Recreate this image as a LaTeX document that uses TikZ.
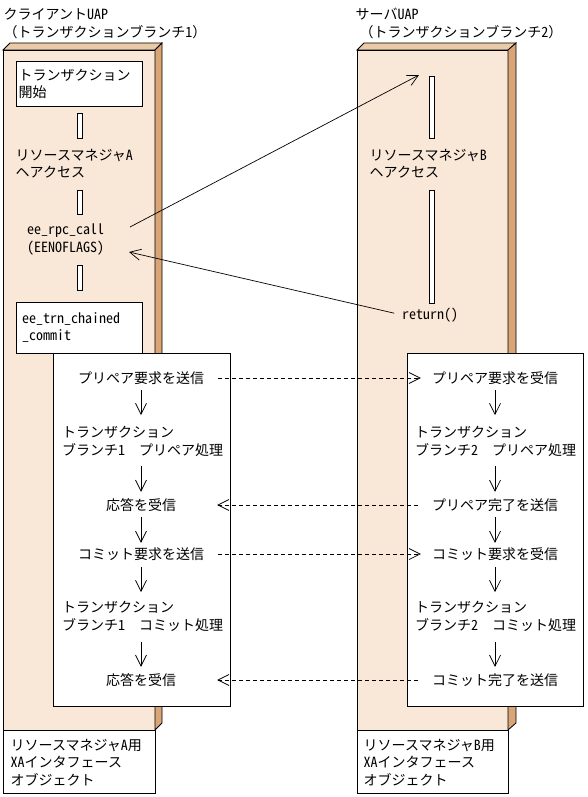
\documentclass[tikz,border=0pt]{standalone}
\usepackage{fontspec}
\setmainfont{Noto Sans CJK JP}
\newfontfamily\hwf{Noto Sans CJK JP}[RawFeature=+hwid]
\newcommand\hw[1]{{\hwf #1}}
\usetikzlibrary{arrows.meta}
\definecolor{panelfront}{RGB}{249,231,215}
\definecolor{paneltop}{RGB}{235,203,167}
\definecolor{panelside}{RGB}{217,164,118}
\newcommand\mystrut{\rule[-1.7pt]{0pt}{14pt}}
\begin{document}
\begin{tikzpicture}[x=1pt,y=-1pt,
  every node/.style={inner sep=0pt, font=\fontsize{14}{17.5}\selectfont},
  txt/.style={anchor=west, align=left},
  ctr/.style={anchor=center},
  frame/.style={draw=black, line width=0.8pt},
  bar/.style={draw=black, fill=white, line width=0.8pt},
  arr/.style={line width=0.7pt, -{Straight Barb[length=11pt,width=11pt]}},
  darr/.style={arr, dash pattern=on 4pt off 3pt},
]
\useasboundingbox (0,0) rectangle (587,797);

% ---- left panel ----
\filldraw[fill=panelfront, frame] (3,50) rectangle (155,730);
\filldraw[fill=paneltop, frame] (3,50) -- (10,43) -- (162,43) -- (155,50) -- cycle;
\filldraw[fill=panelside, frame] (155,50) -- (162,43) -- (162,723) -- (155,730) -- cycle;
% ---- right panel ----
\filldraw[fill=panelfront, frame] (357,50) rectangle (508,730);
\filldraw[fill=paneltop, frame] (357,50) -- (364,43) -- (516,43) -- (508,50) -- cycle;
\filldraw[fill=panelside, frame] (508,50) -- (516,43) -- (516,723) -- (508,730) -- cycle;

% inner boxes left
\filldraw[fill=white, frame] (16,61) rectangle (142,106);
\filldraw[fill=white, frame] (16,302) rectangle (142,353);
% bars
\draw[bar] (77,113) rectangle (82,138);
\draw[bar] (77,190) rectangle (82,214);
\draw[bar] (77,265) rectangle (82,290);
\draw[bar] (429,76) rectangle (434,138);
\draw[bar] (429,190) rectangle (434,303);

% big boxes
\filldraw[fill=white, frame] (53,353) rectangle (230,706);
\filldraw[fill=white, frame] (407,353) rectangle (583,706);
% XA boxes
\filldraw[fill=white, frame] (3,730) rectangle (155,793);
\filldraw[fill=white, frame] (357,730) rectangle (508,793);

% titles
\node[txt] (ttl) at (3.5,23) {\mystrut クライアント\hw{UAP}\\\mystrut （トランザクションブランチ\hw{1}）};
\node[txt] (ttr) at (355.5,23) {\mystrut サーバ\hw{UAP}\\\mystrut\hspace{4pt}（トランザクションブランチ\hw{2}）};

% left panel texts
\node[txt] (tstart) at (18.5,83.5) {\mystrut トランザクション\\\mystrut 開始};
\node[txt] (rma) at (15.5,163.5) {\mystrut リソースマネジャ\hw{A}\\\mystrut ヘアクセス};
\node[txt] (rpc) at (27,238.5) {\mystrut \hw{ee\_rpc\_call}\\\mystrut \hw{(EENOFLAGS)}};
\node[txt] (trn) at (22,327) {\mystrut \hw{ee\_trn\_chained}\\\mystrut \hw{\_commit}};
% right panel texts
\node[txt] (rmb) at (369.5,163.5) {\mystrut リソースマネジャ\hw{B}\\\mystrut ヘアクセス};
\node[txt] (ret) at (402,315) {\mystrut \hw{return()}};

% XA texts
\node[txt] (xaa) at (10.5,762.5) {\mystrut リソースマネジャ\hw{A}用\\\mystrut \hw{XA}インタフェース\\\mystrut オブジェクト};
\node[txt] (xab) at (363.5,762.5) {\mystrut リソースマネジャ\hw{B}用\\\mystrut \hw{XA}インタフェース\\\mystrut オブジェクト};

% left column
\node[ctr] (lp1) at (141,378) {\mystrut プリペア要求を送信};
\node[txt] (lt1) at (62,441) {\mystrut トランザクション\\\mystrut ブランチ\hw{1}　プリペア処理};
\node[ctr] (la2) at (141,505) {\mystrut 応答を受信};
\node[ctr] (lc1) at (141,554) {\mystrut コミット要求を送信};
\node[txt] (lt2) at (62,616) {\mystrut トランザクション\\\mystrut ブランチ\hw{1}　コミット処理};
\node[ctr] (la3) at (141,680) {\mystrut 応答を受信};
% right column
\node[ctr] (rp1) at (495,378) {\mystrut プリペア要求を受信};
\node[txt] (rt1) at (415,441) {\mystrut トランザクション\\\mystrut ブランチ\hw{2}　プリペア処理};
\node[ctr] (rp2) at (495,505) {\mystrut プリペア完了を送信};
\node[ctr] (rc1) at (495,554) {\mystrut コミット要求を受信};
\node[txt] (rt2) at (415,616) {\mystrut トランザクション\\\mystrut ブランチ\hw{2}　コミット処理};
\node[ctr] (rc2) at (495,680) {\mystrut コミット完了を送信};

% call / return arrows
\coordinate (callout) at (130,227);
\coordinate (callin) at (419,75);
\coordinate (retin) at (129,252);
\draw[arr] (callout) -- (callin);
\draw[arr, shorten <=8pt] (ret.west) -- (retin);

% vertical arrows, left
\draw[arr, shorten <=5pt, shorten >=10pt] (lp1.south) -- (lp1.south |- lt1.north);
\draw[arr, shorten <=9pt, shorten >=6pt] (la2.north |- lt1.south) -- (la2.north);
\draw[arr, shorten <=5pt, shorten >=4pt] (la2.south) -- (lc1.north);
\draw[arr, shorten <=6pt, shorten >=8pt] (lc1.south) -- (lc1.south |- lt2.north);
\draw[arr, shorten <=10pt, shorten >=6pt] (la3.north |- lt2.south) -- (la3.north);
% vertical arrows, right
\draw[arr, shorten <=5pt, shorten >=10pt] (rp1.south) -- (rp1.south |- rt1.north);
\draw[arr, shorten <=9pt, shorten >=6pt] (rp2.north |- rt1.south) -- (rp2.north);
\draw[arr, shorten <=5pt, shorten >=4pt] (rp2.south) -- (rc1.north);
\draw[arr, shorten <=6pt, shorten >=8pt] (rc1.south) -- (rc1.south |- rt2.north);
\draw[arr, shorten <=10pt, shorten >=6pt] (rc2.north |- rt2.south) -- (rc2.north);

% dashed messages
\draw[darr, shorten <=14pt, shorten >=11pt] (lp1.east) -- (rp1.west);
\draw[darr, shorten <=14pt, shorten >=41pt] (rp2.west) -- (la2.east);
\draw[darr, shorten <=14pt, shorten >=11pt] (lc1.east) -- (rc1.west);
\draw[darr, shorten <=14pt, shorten >=41pt] (rc2.west) -- (la3.east);
\end{tikzpicture}
\end{document}
